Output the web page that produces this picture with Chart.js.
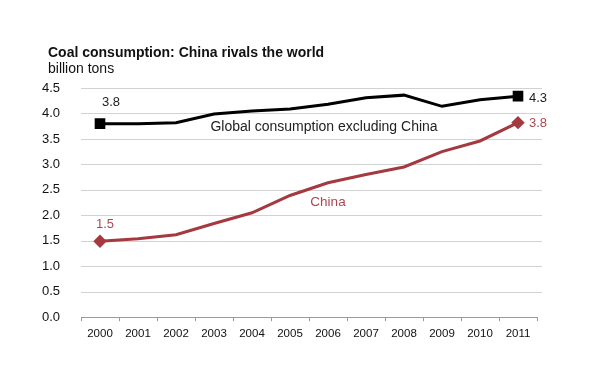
<!DOCTYPE html>
<html><head><meta charset="utf-8">
<script src="https://cdn.jsdelivr.net/npm/chart.js@4"></script>
<style>html,body{margin:0;padding:0;background:#fff}#wrap{width:600px;height:389px;position:relative}</style>
</head><body><div id="wrap"><canvas id="c"></canvas></div>
<script>
const years = ['2000','2001','2002','2003','2004','2005','2006','2007','2008','2009','2010','2011'];
const globalExChina = [3.80,3.80,3.82,3.99,4.05,4.09,4.18,4.31,4.36,4.14,4.27,4.34];
const china = [1.49,1.54,1.62,1.84,2.05,2.39,2.64,2.80,2.95,3.25,3.46,3.82];
const yTicks = [0,0.5,1,1.5,2,2.5,3,3.5,4,4.5];
const titleText = 'Coal consumption: China rivals the world';
const unitText = 'billion tons';
const FONT = "'Liberation Sans', Arial, sans-serif";
const RED = '#a43a3f';
const RED_TEXT = '#ad4651';

const labels = [
  {text:'3.8', idx:0, val:globalExChina[0], dx:2, dy:-21, color:'#222', size:13, align:'left'},
  {text:'4.3', idx:11, val:globalExChina[11], dx:11, dy:2, color:'#222', size:13, align:'left'},
  {text:'1.5', idx:0, val:china[0], dx:-4, dy:-17, color:RED_TEXT, size:13, align:'left'},
  {text:'3.8', idx:11, val:china[11], dx:11, dy:1, color:RED_TEXT, size:13, align:'left'},
  {text:'Global consumption excluding China', idx:6, val:3.74, dx:-4, dy:0, color:'#222', size:14, align:'center'},
  {text:'China', idx:6, val:2.26, dx:0, dy:0, color:RED_TEXT, size:13.5, align:'center'}
];

const decor = {
  id:'decor',
  beforeDatasetsDraw(chart){
    const ctx = chart.ctx, ys = chart.scales.y, a = chart.chartArea;
    ctx.save();
    ctx.strokeStyle = '#d2d2d2'; ctx.lineWidth = 1;
    yTicks.forEach(v=>{
      if (v === 0) return;
      const y = Math.round(ys.getPixelForValue(v)) + 0.5;
      ctx.beginPath(); ctx.moveTo(a.left, y); ctx.lineTo(a.right + 5, y); ctx.stroke();
    });
    ctx.restore();
  },
  afterDatasetsDraw(chart){
    const ctx = chart.ctx, xs = chart.scales.x, ys = chart.scales.y;
    ctx.save();
    ctx.textBaseline = 'middle';
    labels.forEach(l=>{
      ctx.font = l.size + 'px ' + FONT;
      ctx.fillStyle = l.color;
      ctx.textAlign = l.align;
      ctx.fillText(l.text, xs.getPixelForValue(l.idx)+l.dx, ys.getPixelForValue(l.val)+l.dy);
    });
    ctx.font = 'bold 14px ' + FONT;
    ctx.fillStyle = '#111'; ctx.textAlign = 'left';
    ctx.fillText(titleText, 48, 53);
    ctx.font = '14px ' + FONT;
    ctx.fillText(unitText, 48, 69);
    ctx.restore();
  }
};

const ends = n => years.map((_,i)=> (i===0||i===years.length-1)? n : 0);

new Chart(document.getElementById('c'), {
  type:'line',
  data:{labels:years, datasets:[
    {label:'Global consumption excluding China', data:globalExChina, borderColor:'#000', backgroundColor:'#000',
     borderWidth:3, pointStyle:'rect', pointRadius:ends(5.4), pointHoverRadius:ends(5.4), tension:0},
    {label:'China', data:china, borderColor:RED, backgroundColor:RED,
     borderWidth:3, pointStyle:'rectRot', pointRadius:ends(4.6), pointHoverRadius:ends(4.6), tension:0}
  ]},
  options:{
    responsive:true, maintainAspectRatio:false, animation:false,
    layout:{padding:{left:37, right:63, top:88, bottom:42}},
    plugins:{legend:{display:false}, tooltip:{enabled:false}, title:{display:false}},
    scales:{
      x:{offset:true, grid:{offset:true, drawOnChartArea:false, drawTicks:true, tickLength:4, color:'#9a9a9a'},
        border:{display:true, color:'#9a9a9a'},
        ticks:{color:'#111', font:{family:FONT, size:11.5}, padding:6, maxRotation:0}},
      y:{min:0, max:4.5, afterBuildTicks(s){s.ticks = yTicks.map(v=>({value:v}));},
        afterFit(s){s.width = 44;},
        grid:{display:false}, border:{display:false},
        ticks:{color:'#111', font:{family:FONT, size:13}, padding:13, callback:v=>v.toFixed(1)}}
    }
  },
  plugins:[decor]
});
</script></body></html>
